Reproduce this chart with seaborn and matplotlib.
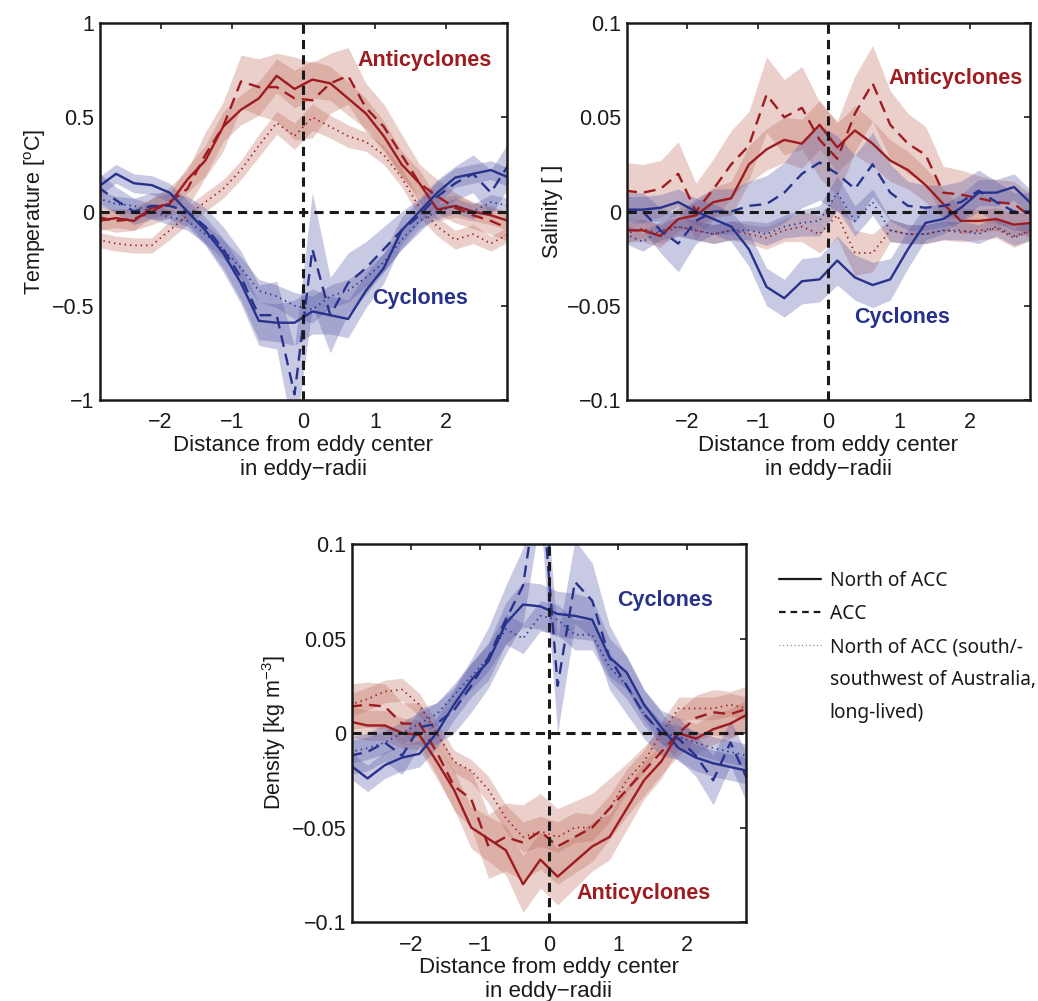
import matplotlib
matplotlib.use("Agg")
import matplotlib.pyplot as plt
import seaborn as sns
from matplotlib.lines import Line2D
from matplotlib.ticker import FuncFormatter
import numpy as np

# ---------------- data ----------------
x = [-2.875, -2.625, -2.375, -2.125, -1.875, -1.625, -1.375, -1.125, -0.875, -0.625,
     -0.375, -0.125, 0.125, 0.375, 0.625, 0.875, 1.125, 1.375, 1.625, 1.875,
     2.125, 2.375, 2.625, 2.875]

# Temperature anomaly [degC]
T_ac_north = [-0.05, -0.035, -0.05, 0.02, 0.04, 0.17, 0.27, 0.45, 0.54, 0.6, 0.72, 0.65,
              0.7, 0.68, 0.6, 0.52, 0.4, 0.25, 0.15, 0.01, 0.03, 0.0, -0.02, -0.05]
T_ac_acc = [-0.03, -0.05, -0.04, 0.0, 0.05, 0.12, 0.3, 0.45, 0.69, 0.66, 0.66, 0.6,
            0.59, 0.68, 0.72, 0.55, 0.45, 0.3, 0.15, 0.08, 0.02, -0.02, -0.05, -0.09]
T_ac_ll = [-0.15, -0.17, -0.18, -0.18, -0.1, -0.02, 0.05, 0.12, 0.22, 0.35, 0.47, 0.4,
           0.5, 0.45, 0.4, 0.37, 0.3, 0.18, 0.02, -0.08, -0.15, -0.12, -0.17, -0.12]
T_cy_north = [0.13, 0.2, 0.15, 0.14, 0.1, 0.0, -0.1, -0.22, -0.38, -0.58, -0.59, -0.59,
              -0.53, -0.55, -0.57, -0.42, -0.3, -0.1, 0.0, 0.1, 0.18, 0.2, 0.22, 0.18]
T_cy_acc = [0.13, 0.06, 0.0, 0.03, 0.03, 0.0, -0.08, -0.2, -0.35, -0.55, -0.55, -0.97,
            -0.2, -0.55, -0.38, -0.3, -0.2, -0.1, -0.02, 0.08, 0.15, 0.2, 0.1, 0.25]
T_cy_ll = [0.07, 0.04, 0.03, 0.0, -0.03, -0.05, -0.12, -0.2, -0.3, -0.42, -0.45, -0.5,
           -0.52, -0.45, -0.42, -0.35, -0.27, -0.15, -0.05, 0.0, 0.03, 0.0, 0.05, 0.03]

T_ac_north_err = [0.05, 0.05, 0.05, 0.05, 0.06, 0.07, 0.08, 0.08, 0.08, 0.09, 0.09, 0.1,
                  0.1, 0.09, 0.09, 0.08, 0.08, 0.07, 0.07, 0.06, 0.06, 0.05, 0.05, 0.05]
T_ac_acc_err = [0.06, 0.06, 0.06, 0.07, 0.08, 0.1, 0.12, 0.13, 0.14, 0.15, 0.18, 0.22,
                0.2, 0.16, 0.15, 0.13, 0.12, 0.11, 0.1, 0.09, 0.08, 0.07, 0.07, 0.07]
T_ac_ll_err = [0.04, 0.04, 0.04, 0.04, 0.05, 0.05, 0.05, 0.05, 0.05, 0.06, 0.06, 0.07,
               0.07, 0.06, 0.06, 0.05, 0.05, 0.05, 0.05, 0.05, 0.05, 0.05, 0.04, 0.04]
T_cy_north_err = [0.05, 0.05, 0.05, 0.05, 0.05, 0.06, 0.07, 0.08, 0.09, 0.1, 0.1, 0.12,
                  0.12, 0.1, 0.1, 0.09, 0.08, 0.07, 0.06, 0.06, 0.05, 0.05, 0.05, 0.05]
T_cy_acc_err = [0.08, 0.07, 0.07, 0.07, 0.07, 0.08, 0.1, 0.12, 0.14, 0.16, 0.18, 0.25,
                0.3, 0.2, 0.16, 0.14, 0.12, 0.1, 0.09, 0.09, 0.09, 0.1, 0.12, 0.12]
T_cy_ll_err = [0.04, 0.04, 0.04, 0.04, 0.04, 0.05, 0.05, 0.05, 0.06, 0.06, 0.06, 0.07,
               0.07, 0.06, 0.06, 0.05, 0.05, 0.05, 0.04, 0.04, 0.04, 0.04, 0.04, 0.04]

# Salinity anomaly
S_ac_north = [-0.01, -0.01, -0.013, -0.004, -0.002, 0.005, 0.007, 0.025, 0.033, 0.038, 0.036, 0.046,
              0.034, 0.043, 0.036, 0.027, 0.022, 0.014, 0.004, -0.005, -0.005, -0.004, -0.007, -0.006]
S_ac_acc = [0.011, 0.01, 0.012, 0.02, 0.0, 0.012, 0.025, 0.035, 0.062, 0.05, 0.055, 0.038,
            0.028, 0.052, 0.068, 0.046, 0.036, 0.03, 0.01, 0.009, 0.007, 0.005, 0.004, -0.003]
S_ac_ll = [-0.012, -0.009, -0.012, -0.008, -0.01, -0.012, -0.01, -0.012, -0.014, -0.01, -0.008, -0.012,
           -0.002, -0.022, -0.022, -0.01, -0.012, -0.012, -0.01, -0.011, -0.01, -0.009, -0.014, -0.01]
S_cy_north = [0.001, 0.001, 0.002, 0.005, 0.0, -0.004, -0.008, -0.02, -0.04, -0.046, -0.037, -0.036,
              -0.026, -0.035, -0.039, -0.036, -0.02, -0.006, -0.004, 0.002, 0.01, 0.01, 0.013, 0.004]
S_cy_acc = [0.0, 0.0, -0.01, -0.017, -0.005, 0.0, 0.0, 0.003, 0.004, 0.01, 0.02, 0.026,
            0.02, 0.012, 0.025, 0.01, 0.003, 0.002, 0.003, 0.005, 0.011, 0.005, 0.0, 0.0]
S_cy_ll = [-0.012, -0.016, -0.01, -0.008, -0.01, -0.012, -0.01, -0.01, -0.012, -0.008, -0.006, -0.005,
           0.01, -0.005, 0.005, -0.01, -0.012, -0.012, -0.01, -0.01, -0.012, -0.008, -0.013, -0.01]

S_ac_north_err = [0.006, 0.006, 0.006, 0.006, 0.007, 0.008, 0.009, 0.01, 0.011, 0.012, 0.013, 0.013,
                  0.013, 0.013, 0.012, 0.011, 0.01, 0.009, 0.008, 0.007, 0.006, 0.006, 0.006, 0.006]
S_ac_acc_err = [0.015, 0.015, 0.015, 0.017, 0.015, 0.016, 0.018, 0.018, 0.02, 0.02, 0.022, 0.02,
                0.02, 0.02, 0.02, 0.018, 0.016, 0.015, 0.014, 0.013, 0.012, 0.012, 0.012, 0.012]
S_ac_ll_err = [0.005, 0.005, 0.005, 0.005, 0.005, 0.005, 0.005, 0.005, 0.006, 0.006, 0.008, 0.01,
               0.012, 0.012, 0.01, 0.006, 0.005, 0.005, 0.005, 0.005, 0.005, 0.005, 0.005, 0.005]
S_cy_north_err = [0.007, 0.007, 0.007, 0.007, 0.007, 0.008, 0.008, 0.009, 0.01, 0.01, 0.012, 0.012,
                  0.013, 0.012, 0.012, 0.011, 0.01, 0.009, 0.008, 0.007, 0.007, 0.007, 0.007, 0.007]
S_cy_acc_err = [0.01, 0.01, 0.012, 0.015, 0.012, 0.012, 0.012, 0.013, 0.015, 0.016, 0.018, 0.02,
                0.02, 0.018, 0.017, 0.015, 0.013, 0.012, 0.011, 0.011, 0.011, 0.011, 0.01, 0.01]
S_cy_ll_err = [0.005, 0.005, 0.005, 0.005, 0.005, 0.005, 0.005, 0.005, 0.006, 0.006, 0.007, 0.008,
               0.009, 0.008, 0.007, 0.006, 0.005, 0.005, 0.005, 0.005, 0.005, 0.005, 0.005, 0.005]

# Density anomaly [kg m^-3]
D_ac_north = [0.006, 0.004, 0.004, 0.0, -0.001, -0.015, -0.03, -0.05, -0.056, -0.062, -0.08, -0.067,
              -0.076, -0.068, -0.06, -0.055, -0.04, -0.025, -0.015, 0.0, -0.003, 0.002, 0.005, 0.01]
D_ac_acc = [0.014, 0.015, 0.014, 0.005, 0.005, -0.01, -0.028, -0.035, -0.06, -0.055, -0.058, -0.052,
            -0.06, -0.055, -0.05, -0.04, -0.03, -0.02, -0.01, 0.0, 0.008, 0.011, 0.01, 0.013]
D_ac_ll = [0.015, 0.018, 0.022, 0.023, 0.015, 0.0, -0.015, -0.02, -0.03, -0.045, -0.055, -0.052,
           -0.055, -0.05, -0.05, -0.04, -0.025, -0.015, 0.0, 0.013, 0.013, 0.013, 0.015, 0.013]
D_cy_north = [-0.017, -0.024, -0.017, -0.013, -0.011, 0.0, 0.015, 0.028, 0.038, 0.058, 0.068, 0.067,
              0.063, 0.062, 0.06, 0.04, 0.032, 0.015, 0.003, -0.008, -0.013, -0.016, -0.018, -0.02]
D_cy_acc = [-0.012, -0.01, -0.005, -0.012, 0.003, 0.005, 0.012, 0.025, 0.04, 0.06, 0.078, 0.14,
            0.025, 0.08, 0.07, 0.04, 0.025, 0.01, 0.0, -0.003, -0.012, -0.025, -0.005, -0.025]
D_cy_ll = [-0.01, -0.008, -0.005, 0.0, 0.005, 0.01, 0.02, 0.03, 0.04, 0.055, 0.05, 0.062,
           0.06, 0.052, 0.052, 0.035, 0.025, 0.01, 0.0, -0.002, -0.005, -0.008, -0.01, -0.012]

D_ac_north_err = [0.008, 0.008, 0.008, 0.008, 0.008, 0.009, 0.01, 0.011, 0.012, 0.013, 0.015, 0.015,
                  0.015, 0.014, 0.013, 0.012, 0.011, 0.01, 0.009, 0.008, 0.008, 0.008, 0.008, 0.008]
D_ac_acc_err = [0.012, 0.012, 0.012, 0.011, 0.011, 0.012, 0.013, 0.015, 0.017, 0.018, 0.02, 0.02,
                0.02, 0.019, 0.018, 0.016, 0.014, 0.013, 0.012, 0.012, 0.012, 0.012, 0.012, 0.012]
D_ac_ll_err = [0.006, 0.006, 0.006, 0.006, 0.006, 0.006, 0.006, 0.006, 0.007, 0.007, 0.008, 0.008,
               0.008, 0.008, 0.007, 0.007, 0.006, 0.006, 0.006, 0.006, 0.006, 0.006, 0.006, 0.006]
D_cy_north_err = [0.007, 0.007, 0.007, 0.007, 0.007, 0.008, 0.008, 0.009, 0.01, 0.011, 0.012, 0.012,
                  0.012, 0.012, 0.011, 0.01, 0.009, 0.008, 0.008, 0.007, 0.007, 0.007, 0.007, 0.007]
D_cy_acc_err = [0.01, 0.01, 0.01, 0.01, 0.01, 0.011, 0.012, 0.014, 0.016, 0.018, 0.02, 0.025,
                0.025, 0.022, 0.02, 0.017, 0.015, 0.013, 0.012, 0.011, 0.011, 0.013, 0.012, 0.013]
D_cy_ll_err = [0.006, 0.006, 0.006, 0.006, 0.006, 0.006, 0.006, 0.007, 0.007, 0.008, 0.008, 0.008,
               0.008, 0.008, 0.008, 0.007, 0.007, 0.006, 0.006, 0.006, 0.006, 0.006, 0.006, 0.006]

legend_labels = ["North of ACC", "ACC", "North of ACC (south/-",
                 "southwest of Australia,", "long-lived)"]

# ---------------- style ----------------
sns.set_style("white")
plt.rcParams["font.family"] = ["Liberation Sans", "DejaVu Sans"]
plt.rcParams["mathtext.fontset"] = "custom"
plt.rcParams["mathtext.rm"] = "Liberation Sans"
plt.rcParams["mathtext.it"] = "Liberation Sans:italic"
plt.rcParams["axes.unicode_minus"] = True

RED = "#9e1b20"
BLUE = "#27328c"
RED_BAND = "#c07060"
BLUE_BAND = "#5a5ca8"
SPINE = "#1a1a1a"
FS = 15.5

fig = plt.figure(figsize=(10.38, 10.01), dpi=100)
ax_t = fig.add_axes([0.0963, 0.6004, 0.3921, 0.3766])
ax_s = fig.add_axes([0.6040, 0.6004, 0.3882, 0.3766])
ax_d = fig.add_axes([0.3391, 0.0789, 0.3796, 0.3776])

styles = {
    "north": dict(lw=1.7, linestyle="-"),
    "acc": dict(lw=1.7, linestyle=(0, (5, 3))),
    "ll": dict(lw=1.25, linestyle=(0, (0.8, 2.3))),
}


def fmt(v, pos):
    s = "%g" % v
    return s.replace("-", "\u2212")


def draw_panel(ax, curves, ylim, yticks, ylabel):
    # bands first
    for y, e, kind, eddy in curves:
        yv = np.asarray(y)
        ev = np.asarray(e)
        band = RED_BAND if eddy == "ac" else BLUE_BAND
        ax.fill_between(x, yv - ev, yv + ev, color=band, alpha=0.33, lw=0, zorder=1)
    for y, e, kind, eddy in curves:
        col = RED if eddy == "ac" else BLUE
        sns.lineplot(x=x, y=y, ax=ax, color=col, zorder=2, **styles[kind])
    ax.axhline(0, color=SPINE, lw=2.2, linestyle=(0, (3, 2)), zorder=4)
    ax.axvline(0, color=SPINE, lw=2.2, linestyle=(0, (3, 2)), zorder=4)
    ax.set_xlim(-2.85, 2.85)
    ax.set_ylim(*ylim)
    ax.set_xticks([-2, -1, 0, 1, 2])
    ax.set_yticks(yticks)
    ax.xaxis.set_major_formatter(FuncFormatter(fmt))
    ax.yaxis.set_major_formatter(FuncFormatter(fmt))
    ax.tick_params(direction="in", length=4, width=1.2, color=SPINE, labelsize=FS,
                   top=True, right=True, pad=4, labelcolor="#1a1a1a")
    ax.tick_params(axis="x", pad=9)
    for sp in ax.spines.values():
        sp.set_linewidth(1.8)
        sp.set_color(SPINE)
        sp.set_visible(True)
    ax.set_xlabel("Distance from eddy center\nin eddy\u2212radii", fontsize=FS + 0.5,
                  linespacing=1.19, labelpad=1, color="#1a1a1a")
    ax.set_ylabel(ylabel, fontsize=FS, labelpad=3, color="#1a1a1a")


draw_panel(ax_t, [
    (T_ac_north, T_ac_north_err, "north", "ac"),
    (T_ac_acc, T_ac_acc_err, "acc", "ac"),
    (T_ac_ll, T_ac_ll_err, "ll", "ac"),
    (T_cy_north, T_cy_north_err, "north", "cy"),
    (T_cy_acc, T_cy_acc_err, "acc", "cy"),
    (T_cy_ll, T_cy_ll_err, "ll", "cy"),
], (-1, 1), [-1, -0.5, 0, 0.5, 1], "Temperature [$^{\\rm o}$C]")

draw_panel(ax_s, [
    (S_ac_north, S_ac_north_err, "north", "ac"),
    (S_ac_acc, S_ac_acc_err, "acc", "ac"),
    (S_ac_ll, S_ac_ll_err, "ll", "ac"),
    (S_cy_north, S_cy_north_err, "north", "cy"),
    (S_cy_acc, S_cy_acc_err, "acc", "cy"),
    (S_cy_ll, S_cy_ll_err, "ll", "cy"),
], (-0.1, 0.1), [-0.1, -0.05, 0, 0.05, 0.1], "Salinity [ ]")

draw_panel(ax_d, [
    (D_ac_north, D_ac_north_err, "north", "ac"),
    (D_ac_acc, D_ac_acc_err, "acc", "ac"),
    (D_ac_ll, D_ac_ll_err, "ll", "ac"),
    (D_cy_north, D_cy_north_err, "north", "cy"),
    (D_cy_acc, D_cy_acc_err, "acc", "cy"),
    (D_cy_ll, D_cy_ll_err, "ll", "cy"),
], (-0.1, 0.1), [-0.1, -0.05, 0, 0.05, 0.1], "Density [kg m$^{-3}$]")

tkw = dict(fontsize=15.5, fontweight="bold", ha="left", va="center")
ax_t.text(0.755, 0.80, "Anticyclones", color=RED, **tkw)
ax_t.text(0.965, -0.46, "Cyclones", color=BLUE, **tkw)
ax_s.text(0.853, 0.0707, "Anticyclones", color=RED, **tkw)
ax_s.text(0.37, -0.056, "Cyclones", color=BLUE, **tkw)
ax_d.text(0.99, 0.070, "Cyclones", color=BLUE, **tkw)
ax_d.text(0.40, -0.085, "Anticyclones", color=RED, **tkw)

handles = [
    Line2D([], [], color="#1a1a1a", lw=1.6, linestyle="-"),
    Line2D([], [], color="#1a1a1a", lw=1.6, linestyle=(0, (3, 2.2))),
    Line2D([], [], color="#777777", lw=0.9, linestyle=(0, (0.8, 2.2))),
    Line2D([], [], color="none"),
    Line2D([], [], color="none"),
]
fig.legend(handles, legend_labels, loc="upper left", bbox_to_anchor=(0.7505, 0.4296),
           frameon=False, borderaxespad=0, borderpad=0, handlelength=2.2,
           handletextpad=0.45, labelspacing=0.68,
           prop={"family": ["Noto Sans", "DejaVu Sans"], "size": 13.8},
           labelcolor="#1a1a1a")

fig.savefig("out.png", dpi=100)
